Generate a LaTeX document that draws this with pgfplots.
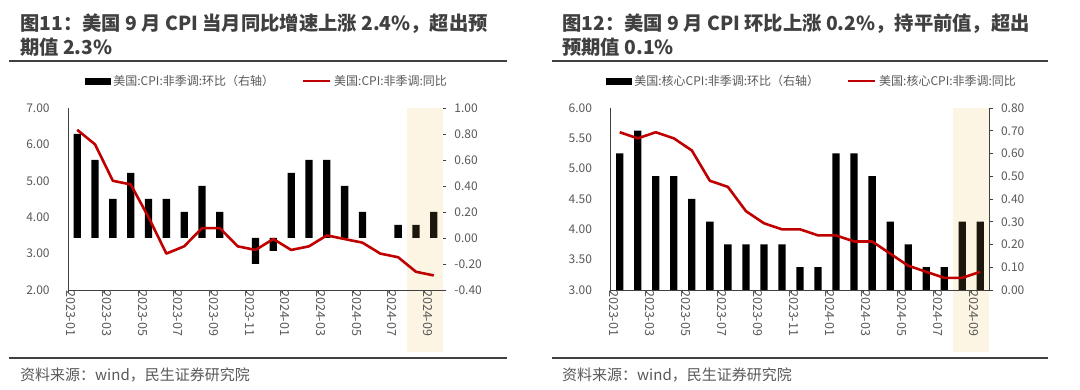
\documentclass[border=0pt]{standalone}
\usepackage{pgfplots}
\usepackage{pgfplotstable}
\pgfplotsset{compat=1.18}
\usepackage{fontspec}
\setmainfont{Noto Sans CJK SC}
\definecolor{lineRed}{HTML}{C00000}
\definecolor{txtGray}{HTML}{595959}
\definecolor{ruleGray}{HTML}{404040}
\definecolor{hl}{HTML}{FDF5E3}
\definecolor{darkbar}{HTML}{1C170C}

\pgfplotstableread{
i mom yoy
0 0.8 6.4
1 0.6 6.0
2 0.3 5.0
3 0.5 4.9
4 0.3 4.0
5 0.3 3.0
6 0.2 3.2
7 0.4 3.7
8 0.2 3.7
9 0.0 3.2
10 -0.2 3.1
11 -0.1 3.4
12 0.5 3.1
13 0.6 3.2
14 0.6 3.5
15 0.4 3.4
16 0.2 3.3
17 0.0 3.0
18 0.1 2.9
19 0.1 2.5
20 0.2 2.4
}\cpiA

\pgfplotstableread{
i mom yoy
0 0.6 5.6
1 0.7 5.5
2 0.5 5.6
3 0.5 5.5
4 0.4 5.3
5 0.3 4.8
6 0.2 4.7
7 0.2 4.3
8 0.2 4.1
9 0.2 4.0
10 0.1 4.0
11 0.1 3.9
12 0.6 3.9
13 0.6 3.8
14 0.5 3.8
15 0.3 3.6
16 0.2 3.4
17 0.1 3.3
18 0.1 3.2
19 0.3 3.2
20 0.3 3.3
}\cpiB

\pgfplotsset{
  panel/.style={scale only axis, width=#1, height=182pt, xmin=-0.5, xmax=20.5,
    axis line style={draw=ruleGray, line width=0.8pt},
    tick style={draw=ruleGray, line width=0.8pt},
    tick align=outside, major tick length=3.5pt,
    tick label style={font=\fontsize{12}{14}\selectfont, text=txtGray},
    /pgf/number format/assume math mode=true,
    yticklabel style={/pgf/number format/fixed, /pgf/number format/fixed zerofill, /pgf/number format/precision=2},
  },
  linepanel/.style={
    axis x line*=bottom, axis y line*=left,
    ytick style={draw=none},
    yticklabel style={anchor=east, inner sep=0pt, xshift=-15pt},
    xtick={-0.5,1.5,...,19.5}, xticklabels={},
    extra x ticks={0,2,...,20},
    extra x tick labels={2023-01,2023-03,2023-05,2023-07,2023-09,2023-11,2024-01,2024-03,2024-05,2024-07,2024-09},
    extra x tick style={major tick length=0pt, xticklabel style={rotate=-90, anchor=west, inner sep=0pt, yshift=-6pt, font=\fontsize{12.5}{14}\selectfont}},
    legend style={draw=none, fill=none, anchor=west, legend columns=2, inner sep=0pt, outer sep=0pt,
      font=\fontsize{12}{14}\selectfont, text=txtGray, nodes={inner sep=0pt},
      /tikz/every odd column/.append style={column sep=3pt},
      /tikz/every even column/.append style={column sep=28pt}},
  },
  barpanel/.style={
    axis x line=none, axis y line*=right, clip=false,
    yticklabel style={anchor=west, inner sep=0pt, xshift=8pt},
    unbounded coords=discard,
  },
  nozero/.style={y filter/.code={\pgfmathparse{abs(\pgfmathresult)<0.001 ? nan : \pgfmathresult}}},
}

\begin{document}
\begin{tikzpicture}
\useasboundingbox (0pt,0pt) rectangle (1080pt,390pt);
\fill[white] (0pt,0pt) rectangle (1080pt,390pt);

% ---------------- Left panel ----------------
\node[anchor=north west, align=left, inner sep=0pt, text=ruleGray,
      font=\fontsize{19.3}{24}\selectfont\bfseries] at (20pt,376pt)
  {图11：美国 9 月 CPI 当月同比增速上涨 2.4\%，超出预\\期值 2.3\%};
\draw[ruleGray, line width=1.5pt] (9pt,329pt) -- (507pt,329pt);
\draw[ruleGray, line width=1.5pt] (9pt,32pt) -- (507pt,32pt);
\node[anchor=west, inner sep=0pt, text=txtGray, font=\fontsize{15}{18}\selectfont] at (20pt,15pt)
  {资料来源：wind，民生证券研究院};

\begin{axis}[panel=374.4pt, barpanel, at={(68.3pt,100pt)}, anchor=south west,
  ymin=-0.4, ymax=1, ytick={-0.4,-0.2,0,0.2,0.4,0.6,0.8,1}]
  \fill[hl] (axis cs:18.5,1) rectangle ([yshift=-62pt]axis cs:20.5,-0.4);
  \addplot[ybar, nozero, bar width=7.3pt, bar shift=0pt, fill=black, draw=none,
    restrict x to domain=0:18] table[x=i, y=mom] {\cpiA};
  \addplot[ybar, nozero, bar width=7.3pt, bar shift=0pt, fill=darkbar, draw=none,
    restrict x to domain=19:20] table[x=i, y=mom] {\cpiA};
\end{axis}

\begin{axis}[panel=374.4pt, linepanel, at={(68.3pt,100pt)}, anchor=south west,
  ymin=2, ymax=7, ytick={2,3,4,5,6,7},
  legend style={at={(0.0446,1.148)}}]
  \addlegendimage{legend image code/.code={\fill[black] (0pt,-3pt) rectangle (25pt,3pt);}}
  \addlegendentry{美国:CPI:非季调:环比（右轴）}
  \addplot[lineRed, line width=2.6pt, line join=round,
    legend image code/.code={\draw[lineRed, line width=2pt] (0pt,0pt) -- (27pt,0pt);}]
    table[x=i, y=yoy] {\cpiA};
  \addlegendentry{美国:CPI:非季调:同比}
\end{axis}

% ---------------- Right panel ----------------
\node[anchor=north west, align=left, inner sep=0pt, text=ruleGray,
      font=\fontsize{19.3}{24}\selectfont\bfseries] at (562pt,376pt)
  {图12：美国 9 月 CPI 环比上涨 0.2\%，持平前值，超出\\预期值 0.1\%};
\draw[ruleGray, line width=1.5pt] (552pt,329pt) -- (1048pt,329pt);
\draw[ruleGray, line width=1.5pt] (552pt,32pt) -- (1048pt,32pt);
\node[anchor=west, inner sep=0pt, text=txtGray, font=\fontsize{15}{18}\selectfont] at (562pt,15pt)
  {资料来源：wind，民生证券研究院};

\begin{axis}[panel=378.6pt, barpanel, at={(610.7pt,100pt)}, anchor=south west,
  ymin=0, ymax=0.8, ytick={0,0.1,0.2,0.3,0.4,0.5,0.6,0.7,0.8}]
  \fill[hl] (axis cs:18.5,0.8) rectangle ([yshift=-62pt]axis cs:20.5,0);
  \addplot[ybar, bar width=7.3pt, bar shift=0pt, fill=black, draw=none,
    restrict x to domain=0:18] table[x=i, y=mom] {\cpiB};
  \addplot[ybar, bar width=7.3pt, bar shift=0pt, fill=darkbar, draw=none,
    restrict x to domain=19:20] table[x=i, y=mom] {\cpiB};
\end{axis}

\begin{axis}[panel=378.6pt, linepanel, at={(610.7pt,100pt)}, anchor=south west,
  ymin=3, ymax=6, ytick={3,3.5,4,4.5,5,5.5,6},
  legend style={at={(-0.0124,1.148)}}]
  \addlegendimage{legend image code/.code={\fill[black] (0pt,-3pt) rectangle (25pt,3pt);}}
  \addlegendentry{美国:核心CPI:非季调:环比（右轴）}
  \addplot[lineRed, line width=2.6pt, line join=round,
    legend image code/.code={\draw[lineRed, line width=2pt] (0pt,0pt) -- (27pt,0pt);}]
    table[x=i, y=yoy] {\cpiB};
  \addlegendentry{美国:核心CPI:非季调:同比}
\end{axis}
\end{tikzpicture}
\end{document}
